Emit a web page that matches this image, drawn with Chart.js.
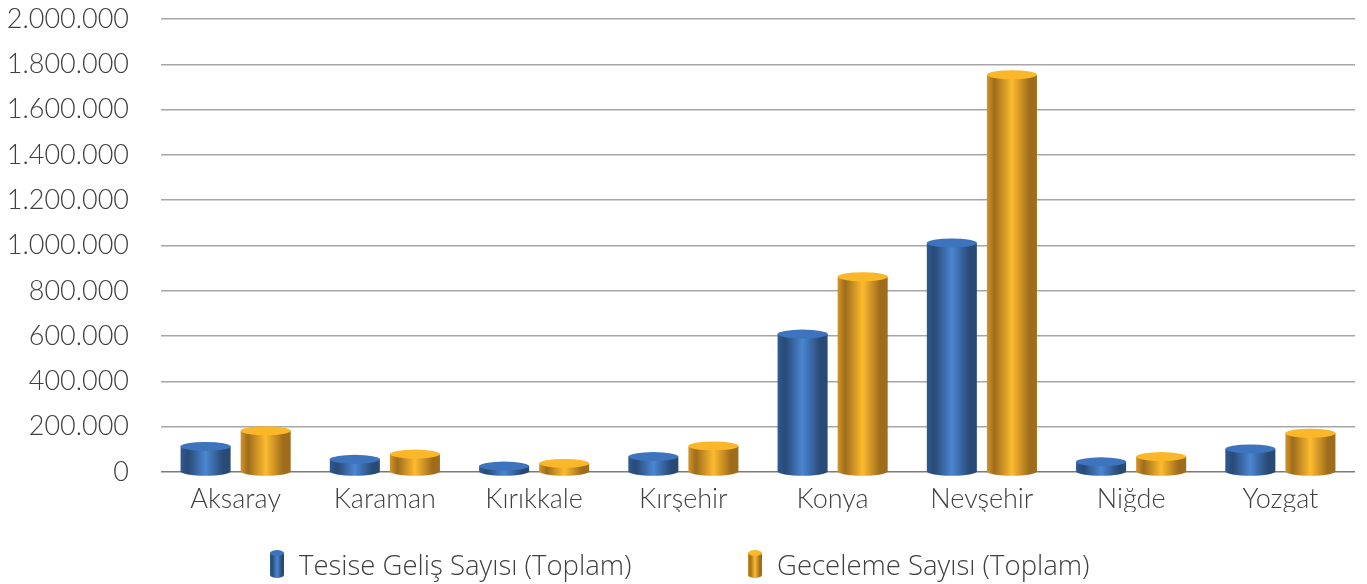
<!DOCTYPE html>
<html>
<head>
<meta charset="utf-8">
<script src="https://cdn.jsdelivr.net/npm/chart.js@4/dist/chart.umd.min.js"></script>
<style>
  html, body { margin: 0; padding: 0; background: #ffffff; }
  #wrap { position: relative; width: 1367px; height: 584px; overflow: hidden; }
  #legend { position: absolute; left: 0; top: 546px; width: 1367px; height: 36px; }
  .item { position: absolute; top: 0; height: 36px; display: flex; align-items: center;
          font-family: 'Open Sans', sans-serif; font-weight: 300; font-size: 27.5px; color: #404040; white-space: nowrap; }
  .item canvas { margin-right: 14px; }
</style>
</head>
<body>
<div id="wrap">
  <canvas id="c" width="1367" height="584"></canvas>
  <div id="legend"></div>
</div>
<script>
const categories = ['Aksaray', 'Karaman', 'Kırıkkale', 'Kırşehir', 'Konya', 'Nevşehir', 'Niğde', 'Yozgat'];
const tesiseGelis = [113000, 56000, 26000, 68000, 609000, 1011000, 45000, 102000];
const geceleme = [182000, 79000, 38000, 115000, 862000, 1754000, 68000, 171000];
const seriesNames = ['Tesise Geliş Sayısı (Toplam)', 'Geceleme Sayısı (Toplam)'];
const yTicks = [0, 200000, 400000, 600000, 800000, 1000000, 1200000, 1400000, 1600000, 1800000, 2000000];

const palettes = [
  { dark: '#294a75', mid: '#3b74bd', light: '#4a86d2', top: '#3d74bd', edge: '#2e5a92' },
  { dark: '#9e6c1c', mid: '#f1ad28', light: '#fdbb2e', top: '#fbb72a', edge: '#d3952a' }
];

function sideGradient(ctx, x0, x1, p) {
  const g = ctx.createLinearGradient(x0, 0, x1, 0);
  g.addColorStop(0, p.edge);
  g.addColorStop(0.15, p.dark);
  g.addColorStop(0.5, p.light);
  g.addColorStop(0.85, p.dark);
  g.addColorStop(1, p.dark);
  return g;
}

function drawCylinder(ctx, cx, w, yTop, yBase, p, ry) {
  const x0 = cx - w / 2, x1 = cx + w / 2, rx = w / 2;
  ctx.save();
  ctx.beginPath();
  ctx.moveTo(x0, yTop);
  ctx.lineTo(x0, yBase);
  ctx.ellipse(cx, yBase, rx, ry, 0, Math.PI, 0, true);
  ctx.lineTo(x1, yTop);
  ctx.closePath();
  ctx.fillStyle = sideGradient(ctx, x0, x1, p);
  ctx.fill();
  ctx.beginPath();
  ctx.ellipse(cx, yTop, rx, ry, 0, 0, Math.PI * 2);
  ctx.fillStyle = p.top;
  ctx.fill();
  ctx.restore();
}

function legendIcon(p) {
  const cv = document.createElement('canvas');
  cv.width = 16; cv.height = 30;
  const ctx = cv.getContext('2d');
  drawCylinder(ctx, 8, 14, 4, 26, p, 3);
  return cv;
}

const cylinderPlugin = {
  id: 'cylinders',
  afterDatasetsDraw(chart) {
    const ctx = chart.ctx;
    chart.data.datasets.forEach((ds, i) => {
      const meta = chart.getDatasetMeta(i);
      meta.data.forEach(bar => {
        drawCylinder(ctx, bar.x, bar.width, bar.y, bar.base, palettes[i], 4.5);
      });
    });
  }
};

function fmt(v) {
  return String(v).replace(/\B(?=(\d{3})+(?!\d))/g, '.');
}

const chart = new Chart(document.getElementById('c'), {
  type: 'bar',
  data: {
    labels: categories,
    datasets: [
      { label: seriesNames[0], data: tesiseGelis, backgroundColor: 'rgba(0,0,0,0)', borderWidth: 0 },
      { label: seriesNames[1], data: geceleme, backgroundColor: 'rgba(0,0,0,0)', borderWidth: 0 }
    ]
  },
  options: {
    responsive: false,
    animation: false,
    devicePixelRatio: 1,
    layout: { padding: { left: 0, right: 12, top: 19, bottom: 72 } },
    datasets: { bar: { categoryPercentage: 0.805, barPercentage: 0.833 } },
    scales: {
      x: {
        afterFit(axis) { axis.height = 40; axis.paddingLeft = 0; axis.paddingRight = 0; },
        grid: { display: false, drawTicks: false },
        border: { display: false },
        ticks: { color: '#404040', font: { family: 'Lato', size: 27, weight: 300 }, padding: 11, maxRotation: 0 }
      },
      y: {
        min: 0, max: 2000000,
        afterFit(axis) { axis.width = 161; axis.paddingTop = 0; axis.paddingBottom = 0; },
        afterBuildTicks(axis) { axis.ticks = yTicks.map(v => ({ value: v })); },
        grid: { color: (c) => c.tick && c.tick.value === 0 ? '#7a7a7a' : '#a6a6a6', lineWidth: 1.5, drawTicks: false },
        border: { display: false },
        ticks: { color: '#404040', font: { family: 'Lato', size: 27, weight: 300 }, padding: 32,
          callback: (v) => fmt(v) }
      }
    },
    plugins: {
      tooltip: { enabled: false },
      legend: { display: false }
    }
  },
  plugins: [cylinderPlugin]
});

// HTML legend built from the chart's datasets
const legendEl = document.getElementById('legend');
const legendX = [269, 747];
chart.data.datasets.forEach((ds, i) => {
  const item = document.createElement('div');
  item.className = 'item';
  item.style.left = legendX[i] + 'px';
  item.appendChild(legendIcon(palettes[i]));
  const span = document.createElement('span');
  span.textContent = ds.label;
  item.appendChild(span);
  legendEl.appendChild(item);
});
</script>
</body>
</html>
